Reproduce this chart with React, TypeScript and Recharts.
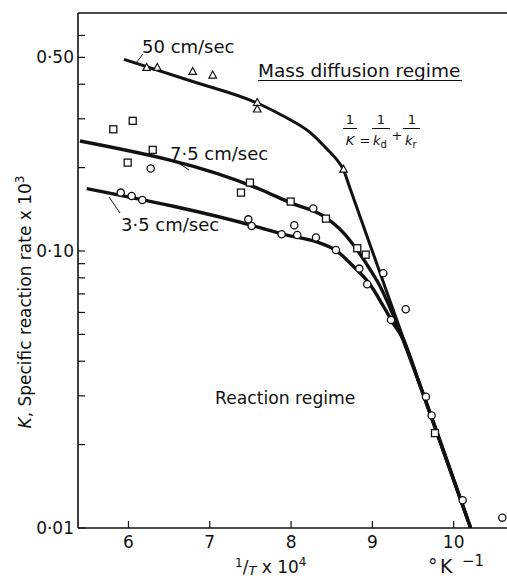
import React from 'react';
import { ComposedChart, Line, Scatter, XAxis, YAxis, ReferenceLine } from 'recharts';

// layout (px)
const W = 507;
const H = 584;
const PLOT_LEFT = 78;
const PLOT_TOP = 13;
const PLOT_BOTTOM = 528;
const INK = '#111';
const FONT = '"DejaVu Sans", "Liberation Sans", sans-serif';

const X_DOMAIN = [5.379, 10.656];
const Y_DOMAIN = [0.01, 0.723];
const X_TICKS = [6, 7, 8, 9, 10];
const Y_TICKS = [0.01, 0.02, 0.03, 0.04, 0.05, 0.06, 0.07, 0.08, 0.09, 0.1, 0.2, 0.3, 0.4, 0.5, 0.6];
const Y_TICK_LABELS: Record<string, string> = { '0.01': '0·01', '0.1': '0·10', '0.5': '0·50' };

// fitted curves
const curve50 = [
  { x: 5.945, y: 0.492 },
  { x: 6.78, y: 0.41 },
  { x: 7.617, y: 0.3386 },
  { x: 7.904, y: 0.307 },
  { x: 8.233, y: 0.268 },
  { x: 8.45, y: 0.232 },
  { x: 8.56, y: 0.214 },
  { x: 8.642, y: 0.1972 },
  { x: 8.724, y: 0.1687 },
  { x: 8.847, y: 0.1335 },
  { x: 9.011, y: 0.0977 },
  { x: 9.134, y: 0.0773 },
  { x: 9.34, y: 0.0523 },
  { x: 9.585, y: 0.0328 },
  { x: 10.209, y: 0.01 },
];

const curve75 = [
  { x: 5.403, y: 0.2495 },
  { x: 7.617, y: 0.167 },
  { x: 7.986, y: 0.1495 },
  { x: 8.396, y: 0.1338 },
  { x: 8.642, y: 0.1165 },
  { x: 8.807, y: 0.1014 },
  { x: 8.97, y: 0.0859 },
  { x: 9.093, y: 0.0748 },
  { x: 9.253, y: 0.059 },
  { x: 9.585, y: 0.0328 },
  { x: 10.209, y: 0.01 },
];

const curve35 = [
  { x: 5.486, y: 0.168 },
  { x: 7.617, y: 0.1215 },
  { x: 7.904, y: 0.1149 },
  { x: 8.315, y: 0.1078 },
  { x: 8.561, y: 0.1 },
  { x: 8.761, y: 0.0883 },
  { x: 8.97, y: 0.0758 },
  { x: 9.134, y: 0.0633 },
  { x: 9.257, y: 0.0548 },
  { x: 9.38, y: 0.048 },
  { x: 9.585, y: 0.0328 },
  { x: 10.209, y: 0.01 },
];

// measured points
const triangles = [
  { x: 6.224, y: 0.459 },
  { x: 6.354, y: 0.459 },
  { x: 6.79, y: 0.444 },
  { x: 7.036, y: 0.431 },
  { x: 7.584, y: 0.343 },
  { x: 7.584, y: 0.325 },
  { x: 8.645, y: 0.197 },
];

const squares = [
  { x: 5.813, y: 0.275 },
  { x: 6.052, y: 0.295 },
  { x: 6.298, y: 0.2317 },
  { x: 5.99, y: 0.2085 },
  { x: 7.494, y: 0.1766 },
  { x: 7.384, y: 0.1625 },
  { x: 7.995, y: 0.1508 },
  { x: 8.429, y: 0.1309 },
  { x: 8.814, y: 0.1023 },
  { x: 8.918, y: 0.097 },
  { x: 9.77, y: 0.022 },
];

const circles = [
  { x: 5.904, y: 0.1625 },
  { x: 6.039, y: 0.158 },
  { x: 6.17, y: 0.1528 },
  { x: 6.273, y: 0.1984 },
  { x: 7.474, y: 0.1301 },
  { x: 7.515, y: 0.1231 },
  { x: 7.884, y: 0.1149 },
  { x: 8.076, y: 0.1142 },
  { x: 8.039, y: 0.1238 },
  { x: 8.306, y: 0.1118 },
  { x: 8.273, y: 0.1423 },
  { x: 8.552, y: 0.1008 },
  { x: 8.839, y: 0.0864 },
  { x: 8.937, y: 0.0758 },
  { x: 9.134, y: 0.0831 },
  { x: 9.41, y: 0.0616 },
  { x: 9.229, y: 0.0564 },
  { x: 9.659, y: 0.0298 },
  { x: 9.729, y: 0.0255 },
  { x: 10.111, y: 0.0126 },
  { x: 10.598, y: 0.0109 },
];

const CircleMark = (p: any) => (
  <circle cx={p.cx} cy={p.cy} r={3.6} fill="#fff" stroke={INK} strokeWidth={1.3} />
);
const SquareMark = (p: any) => (
  <rect x={p.cx - 3.5} y={p.cy - 3.5} width={7} height={7} fill="#fff" stroke={INK} strokeWidth={1.3} />
);
const TriangleMark = (p: any) => (
  <path
    d={`M${p.cx},${p.cy - 4.2} L${p.cx + 3.8},${p.cy + 2.8} L${p.cx - 3.8},${p.cy + 2.8} Z`}
    fill="#fff"
    stroke={INK}
    strokeWidth={1.2}
  />
);

const YTick = (props: any) => {
  const { y, payload } = props;
  const label = Y_TICK_LABELS[String(payload.value)];
  return (
    <g>
      <line x1={PLOT_LEFT} x2={PLOT_LEFT + 7} y1={y} y2={y} stroke={INK} strokeWidth={1.2} />
      {label && (
        <text x={PLOT_LEFT - 4} y={y + 6} textAnchor="end" fontSize={17} fontFamily={FONT} fill={INK}>
          {label}
        </text>
      )}
    </g>
  );
};

const XTick = (props: any) => {
  const { x, payload } = props;
  return (
    <g>
      <line x1={x} x2={x} y1={PLOT_BOTTOM} y2={PLOT_BOTTOM - 7} stroke={INK} strokeWidth={1.2} />
      <text x={x} y={PLOT_BOTTOM + 20} textAnchor="middle" fontSize={17} fontFamily={FONT} fill={INK}>
        {payload.value}
      </text>
    </g>
  );
};

export default function App() {
  const txt = { fontFamily: FONT, fill: INK };
  return (
    <div style={{ position: 'absolute', left: 0, top: 0, width: W, height: H, background: '#fff' }}>
      <ComposedChart width={W} height={H} margin={{ top: PLOT_TOP, right: 0, left: 0, bottom: 0 }}>
        <XAxis
          dataKey="x"
          type="number"
          domain={X_DOMAIN}
          ticks={X_TICKS}
          interval={0}
          allowDataOverflow
          height={H - PLOT_BOTTOM}
          tickLine={false}
          axisLine={{ stroke: INK, strokeWidth: 1.6 }}
          tick={<XTick />}
        />
        <YAxis
          dataKey="y"
          scale="log"
          domain={Y_DOMAIN}
          ticks={Y_TICKS}
          interval={0}
          allowDataOverflow
          width={PLOT_LEFT}
          tickLine={false}
          axisLine={{ stroke: INK, strokeWidth: 1.6 }}
          tick={<YTick />}
        />
        <ReferenceLine y={Y_DOMAIN[1]} stroke={INK} strokeWidth={1.6} />
        <Line data={curve50} dataKey="y" type="monotone" stroke={INK} strokeWidth={3} dot={false} activeDot={false} isAnimationActive={false} />
        <Line data={curve75} dataKey="y" type="monotone" stroke={INK} strokeWidth={3.4} dot={false} activeDot={false} isAnimationActive={false} />
        <Line data={curve35} dataKey="y" type="monotone" stroke={INK} strokeWidth={3.4} dot={false} activeDot={false} isAnimationActive={false} />
        <Scatter data={triangles} dataKey="y" shape={<TriangleMark />} isAnimationActive={false} />
        <Scatter data={squares} dataKey="y" shape={<SquareMark />} isAnimationActive={false} />
        <Scatter data={circles} dataKey="y" shape={<CircleMark />} isAnimationActive={false} />
      </ComposedChart>

      <svg width={W} height={H} style={{ position: 'absolute', left: 0, top: 0, pointerEvents: 'none' }}>
        {/* curve labels with leader lines */}
        <text x={142} y={53} fontSize={18} {...txt}>50 cm/sec</text>
        <line x1={143} y1={54} x2={136} y2={63} stroke={INK} strokeWidth={1} />
        <text x={170} y={160} fontSize={18} {...txt}>7·5 cm/sec</text>
        <line x1={177} y1={162} x2={189} y2={170} stroke={INK} strokeWidth={1} />
        <text x={121} y={231} fontSize={18} {...txt}>3·5 cm/sec</text>
        <line x1={109} y1={197} x2={120} y2={213} stroke={INK} strokeWidth={1} />

        {/* regimes */}
        <text x={258} y={77} fontSize={18.5} {...txt}>Mass diffusion regime</text>
        <line x1={258} y1={80.5} x2={462} y2={80.5} stroke={INK} strokeWidth={1} />
        <text x={215} y={404} fontSize={17.2} {...txt}>Reaction regime</text>

        {/* 1/K = 1/kd + 1/kr */}
        <g fontSize={13} {...txt}>
          <text x={350} y={124} textAnchor="middle">1</text>
          <line x1={343} x2={357} y1={128.5} y2={128.5} stroke={INK} strokeWidth={1} />
          <text x={350} y={145} textAnchor="middle" fontStyle="italic">K</text>
          <text x={365} y={145} textAnchor="middle">=</text>
          <text x={381} y={124} textAnchor="middle">1</text>
          <line x1={372} x2={390} y1={128.5} y2={128.5} stroke={INK} strokeWidth={1} />
          <text x={373} y={145} fontStyle="italic">k<tspan fontSize={10} dy={3} fontStyle="normal">d</tspan></text>
          <text x={397} y={140} textAnchor="middle">+</text>
          <text x={412} y={124} textAnchor="middle">1</text>
          <line x1={403} x2={420} y1={128.5} y2={128.5} stroke={INK} strokeWidth={1} />
          <text x={405} y={145} fontStyle="italic">k<tspan fontSize={10} dy={3} fontStyle="normal">r</tspan></text>
        </g>

        {/* axis titles */}
        <text transform="translate(31,302) rotate(-90)" textAnchor="middle" fontSize={17} {...txt}>
          <tspan fontStyle="italic">K</tspan>, Specific reaction rate x 10<tspan fontSize={12} dy={-7}>3</tspan>
        </text>
        <text x={235} y={573} fontSize={17} {...txt}>
          <tspan fontSize={12} dy={-6}>1</tspan>
          <tspan dy={6}>/</tspan>
          <tspan fontSize={13} fontStyle="italic" dy={2}>T</tspan>
          <tspan dy={-2}> x 10</tspan>
          <tspan fontSize={12} dy={-7}>4</tspan>
        </text>
        <text y={573} fontSize={19} {...txt}>
          <tspan x={428}>°</tspan>
          <tspan x={440}>K</tspan>
          <tspan x={462} fontSize={15} dy={-7}>−1</tspan>
        </text>
      </svg>
    </div>
  );
}
